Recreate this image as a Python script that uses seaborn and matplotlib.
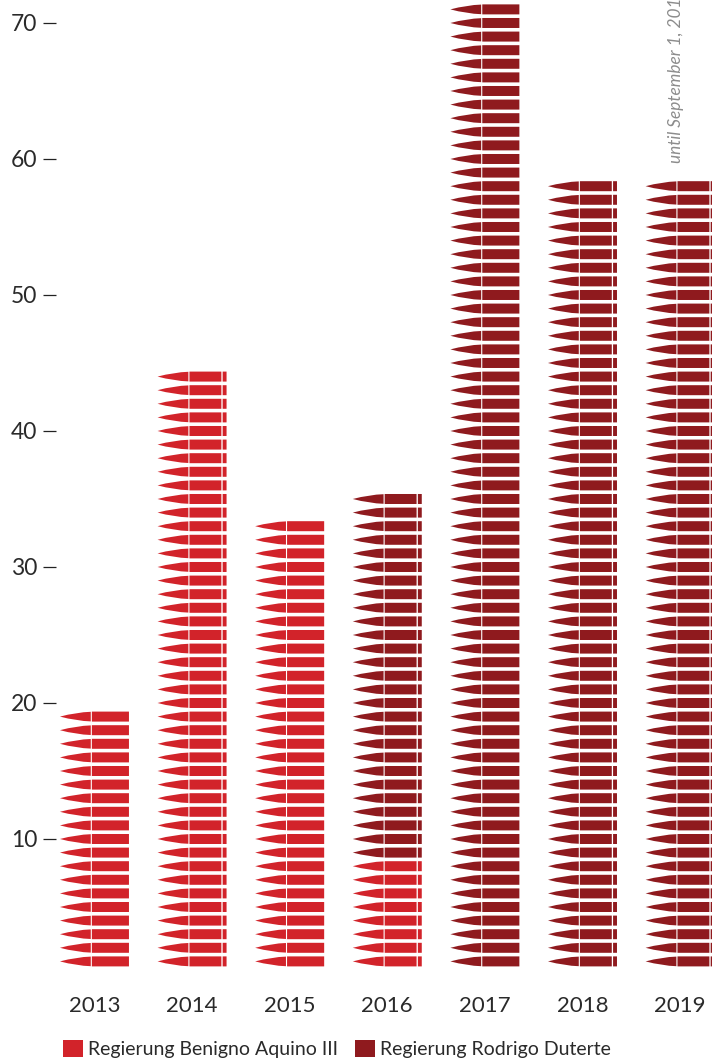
import numpy as np
import pandas as pd
import matplotlib
matplotlib.use("Agg")
import matplotlib.pyplot as plt
from matplotlib.path import Path
from matplotlib.patches import Patch
import seaborn as sns

years = ["2013", "2014", "2015", "2016", "2017", "2018", "2019"]
aquino = [19, 44, 33, 8, 0, 0, 0]
duterte = [0, 0, 0, 27, 71, 58, 58]
banded = [False, True, False, True, False, True, True]
yticks = [10, 20, 30, 40, 50, 60, 70]
names = ["Regierung Benigno Aquino III", "Regierung Rodrigo Duterte"]
colors = {names[0]: "#D2232A", names[1]: "#8F1A1E"}
note = "until September 1, 2019"

rows = []
for i, y in enumerate(years):
    for k in range(aquino[i]):
        rows.append((i, k + 1, names[0], banded[i]))
    for k in range(duterte[i]):
        rows.append((i, aquino[i] + k + 1, names[1], banded[i]))
df = pd.DataFrame(rows, columns=["pos", "count", "gov", "band"])


def rect(x0, x1, h=5.0):
    return ([(x0, -h), (x1, -h), (x1, h), (x0, h), (x0, -h)],
            [Path.MOVETO, Path.LINETO, Path.LINETO, Path.LINETO, Path.CLOSEPOLY])


def bullet(band):
    v = [(-34.5, 0), (-18, 4.4), (-3.7, 4.8), (-3.7, -4.8), (-18, -4.4), (-34.5, 0), (-34.5, 0)]
    c = [Path.MOVETO, Path.CURVE3, Path.CURVE3, Path.LINETO, Path.CURVE3, Path.CURVE3, Path.CLOSEPOLY]
    parts = [(-2.6, 29.3), (30.6, 34.5)] if band else [(-2.6, 34.5)]
    for a, b in parts:
        rv, rc = rect(a, b)
        v += rv
        c += rc
    return Path(v, c)


sns.set_theme(style="white")
plt.rcParams["font.family"] = ["Lato", "DejaVu Sans"]

W, H = 712, 1059
fig = plt.figure(figsize=(W / 100, H / 100), dpi=100)
ax = fig.add_axes([56 / W, 84 / H, (W - 56) / W, 975 / H])

for flag, sub in df.groupby("band"):
    sns.scatterplot(data=sub, x="pos", y="count", hue="gov", palette=colors,
                    marker=bullet(bool(flag)), s=2468, linewidth=0, legend=False,
                    ax=ax)

ax.set_xlim(-0.394, 6.327)
ax.set_ylim(0, 71.69)
ax.set_xlabel("")
ax.set_ylabel("")
ax.set_xticks(range(len(years)), years)
ax.set_yticks(yticks, [str(t) for t in yticks])
ax.tick_params(axis="x", length=0, pad=15, labelsize=16, labelcolor="#2a2a2a")
ax.tick_params(axis="y", length=9.4, width=0.9, color="#222222", pad=4, labelsize=16.5,
               labelcolor="#2a2a2a", left=True)
sns.despine(ax=ax, left=True, bottom=True, top=True, right=True)

ax.text(6 - 0.04, 59.7, note, rotation=90, ha="center", va="bottom", fontsize=12.4,
        style="italic", color="#8c8c8c", clip_on=False)

handles = [Patch(facecolor=colors[n], edgecolor="none", label=n) for n in names]
leg = fig.legend(handles=handles, loc="lower left", bbox_to_anchor=(63 / W, 1 / H), ncol=2,
                 frameon=False, fontsize=14, handlelength=1.03, handleheight=0.98,
                 handletextpad=0.25, columnspacing=0.9, borderpad=0, borderaxespad=0,
                 labelcolor="#2a2a2a")

fig.savefig("out.png", dpi=100)
